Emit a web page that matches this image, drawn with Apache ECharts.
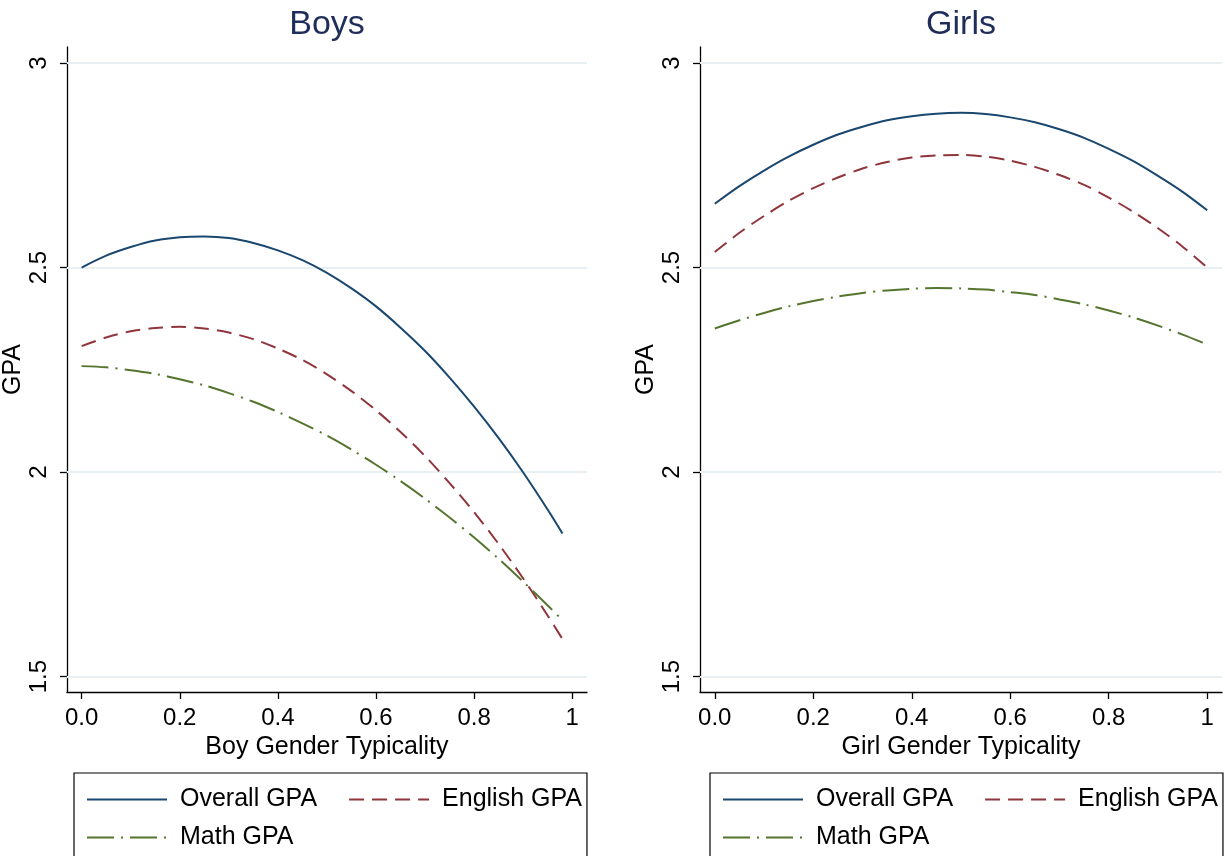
<!DOCTYPE html>
<html>
<head>
<meta charset="utf-8">
<script src="https://cdn.jsdelivr.net/npm/echarts@6/dist/echarts.min.js"></script>
<style>
html,body{margin:0;padding:0;background:#fff;}
#c{width:1225px;height:856px;}
</style>
</head>
<body>
<div id="c"></div>
<script>
// ---- data ----
const boysX  = [0, 0.05, 0.1, 0.15, 0.2, 0.25, 0.3, 0.35, 0.4, 0.45, 0.5, 0.55, 0.6, 0.65, 0.7, 0.75, 0.8, 0.85, 0.9, 0.95, 0.98];
const boysOverall = [2.500, 2.529, 2.550, 2.566, 2.574, 2.576, 2.572, 2.560, 2.542, 2.518, 2.487, 2.449, 2.405, 2.353, 2.296, 2.231, 2.160, 2.083, 1.999, 1.908, 1.850];
const boysEnglish = [2.308, 2.329, 2.344, 2.352, 2.355, 2.351, 2.341, 2.325, 2.302, 2.274, 2.239, 2.198, 2.151, 2.098, 2.039, 1.973, 1.902, 1.824, 1.740, 1.649, 1.592];
const boysMath    = [2.259, 2.256, 2.249, 2.240, 2.227, 2.212, 2.193, 2.172, 2.147, 2.119, 2.089, 2.055, 2.018, 1.978, 1.935, 1.889, 1.840, 1.788, 1.732, 1.674, 1.638];

const girlsX = [0, 0.05, 0.1, 0.15, 0.2, 0.25, 0.3, 0.35, 0.4, 0.45, 0.5, 0.55, 0.6, 0.65, 0.7, 0.75, 0.8, 0.85, 0.9, 0.95, 1.0];
const girlsOverall = [2.656, 2.699, 2.737, 2.771, 2.800, 2.825, 2.844, 2.860, 2.870, 2.876, 2.878, 2.875, 2.867, 2.855, 2.838, 2.817, 2.790, 2.760, 2.724, 2.685, 2.640];
const girlsEnglish = [2.538, 2.585, 2.626, 2.663, 2.694, 2.720, 2.742, 2.758, 2.769, 2.774, 2.775, 2.771, 2.761, 2.746, 2.726, 2.702, 2.671, 2.636, 2.596, 2.551, 2.500];
const girlsMath    = [2.351, 2.371, 2.389, 2.405, 2.418, 2.429, 2.438, 2.444, 2.448, 2.450, 2.449, 2.446, 2.440, 2.433, 2.422, 2.410, 2.395, 2.378, 2.358, 2.336, 2.312];

const xTicks = [0, 0.2, 0.4, 0.6, 0.8, 1];
const xTickLabels = ['0.0', '0.2', '0.4', '0.6', '0.8', '1'];
const yTicks = [1.5, 2, 2.5, 3];
const yTickLabels = ['1.5', '2', '2.5', '3'];
const seriesNames = ['Overall GPA', 'English GPA', 'Math GPA'];
const panelTitles = ['Boys', 'Girls'];
const xTitles = ['Boy Gender Typicality', 'Girl Gender Typicality'];

// ---- styling ----
const FONT = 'Liberation Sans, Arial, Helvetica, sans-serif';
const colors = ['#1a476f', '#90353b', '#55752f'];
const dashTypes = ['solid', [15, 8], [27, 7, 2, 7]];
const gridColor = '#e8f0f3';

const chart = echarts.init(document.getElementById('c'), null, {renderer: 'canvas'});

const gridLefts = [65, 700];
const grids = gridLefts.map(l => ({left: l, top: 47, width: 522, height: 645}));

function pairs(xs, ys) { return xs.map((x, i) => [x, ys[i]]); }

const xAxes = [0, 1].map(i => ({
  type: 'value', gridIndex: i, min: -0.03, max: 1.03,
  name: xTitles[i], nameLocation: 'middle', nameGap: 43,
  nameTextStyle: {fontFamily: FONT, fontSize: 25, color: '#000'},
  axisLine: {show: true, onZero: false, lineStyle: {color: '#000', width: 1.3}},
  axisTick: {show: true, length: 7, lineStyle: {color: '#000', width: 1.3}, customValues: xTicks},
  axisLabel: {show: true, customValues: xTicks, fontFamily: FONT, fontSize: 24, color: '#000', margin: 14,
    formatter: v => { const k = xTicks.findIndex(t => Math.abs(t - v) < 1e-9); return k >= 0 ? xTickLabels[k] : ''; }},
  splitLine: {show: false}
}));

const yAxes = [0, 1].map(i => ({
  type: 'value', gridIndex: i, min: 1.4625, max: 3.039,
  name: 'GPA', nameLocation: 'middle', nameGap: 29, nameRotate: 90,
  nameTextStyle: {fontFamily: FONT, fontSize: 25, color: '#000'},
  axisLine: {show: true, onZero: false, lineStyle: {color: '#000', width: 1.3}},
  axisTick: {show: true, length: 7, lineStyle: {color: '#000', width: 1.3}, customValues: yTicks},
  axisLabel: {show: true, customValues: yTicks, rotate: 90, fontFamily: FONT, fontSize: 24, color: '#000', margin: 16,
    formatter: v => { const k = yTicks.findIndex(t => Math.abs(t - v) < 1e-9); return k >= 0 ? yTickLabels[k] : ''; }},
  splitLine: {show: false}
}));

const panelData = [
  [boysOverall, boysEnglish, boysMath],
  [girlsOverall, girlsEnglish, girlsMath]
];
const panelX = [boysX, girlsX];

const series = [];
[0, 1].forEach(p => {
  panelData[p].forEach((ys, k) => {
    const s = {
      type: 'line', name: seriesNames[k], xAxisIndex: p, yAxisIndex: p,
      data: pairs(panelX[p], ys), smooth: 0.3, showSymbol: false, symbol: 'none',
      lineStyle: {color: colors[k], width: 2, type: dashTypes[k]},
      itemStyle: {color: colors[k]},
      z: 3 + k
    };
    if (k === 0) {
      s.markLine = {
        silent: true, symbol: 'none', label: {show: false}, animation: false,
        lineStyle: {color: gridColor, width: 1.8, type: 'solid'},
        data: yTicks.map(v => ({yAxis: v})),
        z: 1
      };
    }
    series.push(s);
  });
});

const legendCommon = {
  orient: 'horizontal',
  itemWidth: 80, itemHeight: 14, itemGap: 31,
  itemStyle: {opacity: 0},
  lineStyle: {width: 2},
  textStyle: {fontFamily: FONT, fontSize: 25, color: '#000', padding: [0, 0, 0, 8]},
  selectedMode: false
};
const legendLefts = [74, 710];
const legends = [];
legendLefts.forEach(l => {
  legends.push(Object.assign({}, legendCommon, {
    data: seriesNames.slice(0, 2), left: l, top: 773, width: 540,
    borderColor: '#000', borderWidth: 1.2, borderRadius: 0,
    padding: [14, 5, 70, 12]
  }));
  legends.push(Object.assign({}, legendCommon, {
    data: seriesNames.slice(2), left: l + 12, top: 825, width: 300, padding: 0
  }));
});

chart.setOption({
  backgroundColor: '#fff',
  animation: false,
  title: [0, 1].map(i => ({
    text: panelTitles[i], left: i === 0 ? 322 : 956, top: 3, textAlign: 'center',
    textStyle: {fontFamily: FONT, fontSize: 34, fontWeight: 'normal', color: '#1e2d59'}
  })),
  grid: grids,
  xAxis: xAxes,
  yAxis: yAxes,
  legend: legends,
  series: series
});
</script>
</body>
</html>
